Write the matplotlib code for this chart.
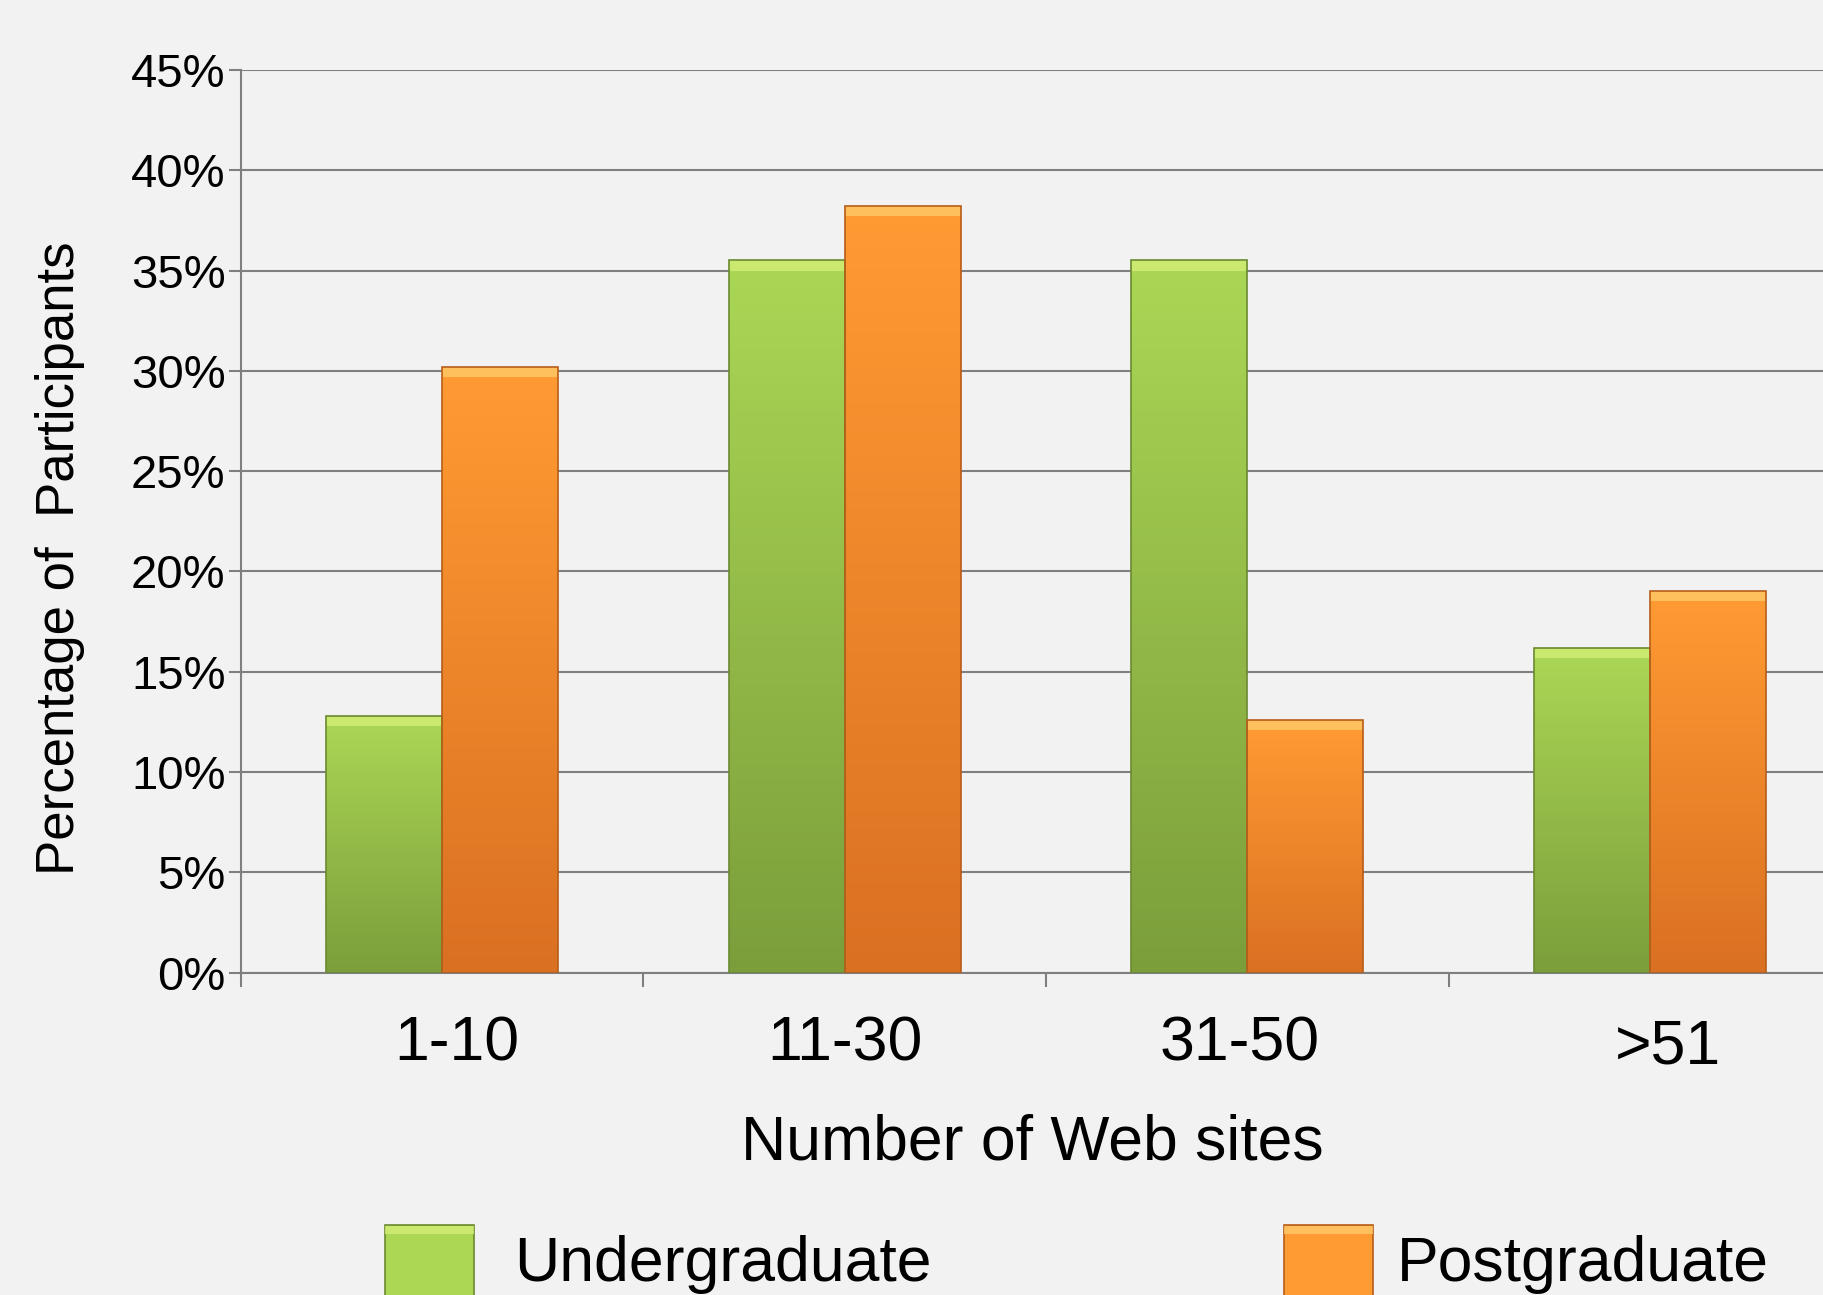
import matplotlib

matplotlib.use("Agg")
import matplotlib.pyplot as plt
import matplotlib.transforms as mtransforms
import numpy as np
from matplotlib.colors import LinearSegmentedColormap
from matplotlib.patches import Rectangle
from matplotlib.ticker import FixedLocator, PercentFormatter

categories = ["1-10", "11-30", "31-50", ">51"]
undergraduate = [12.8, 35.5, 35.5, 16.2]
postgraduate = [30.2, 38.2, 12.6, 19.0]
series_names = ["Undergraduate", "Postgraduate"]
y_ticks = [0, 5, 10, 15, 20, 25, 30, 35, 40, 45]

BG = "#f2f2f2"
GREEN = ("#abd755", "#7b9e3b", "#6a8a30", "#d9f27a")   # top, bottom, edge, bevel
ORANGE = ("#ff9b33", "#da7022", "#b85d18", "#ffd070")

plt.rcParams["font.family"] = ["Liberation Sans", "DejaVu Sans"]

fig = plt.figure(figsize=(18.24, 12.95), dpi=100, facecolor=BG)
ax = fig.add_axes([0.132, 0.249, 0.883, 0.697], facecolor=BG)

x = np.arange(len(categories))
w = 0.288


def gradient_bars(xs, vals, colours):
    top, bottom, edge, bevel = colours
    cmap = LinearSegmentedColormap.from_list("g", [bottom, top])
    bars = ax.bar(xs, vals, width=w, color="none", edgecolor=edge, linewidth=1.2, zorder=3)
    grad = np.linspace(0, 1, 256).reshape(-1, 1)
    for b in bars:
        x0, x1 = b.get_x(), b.get_x() + b.get_width()
        h = b.get_height()
        im = ax.imshow(grad, extent=[x0, x1, 0, h], origin="lower", aspect="auto",
                       cmap=cmap, zorder=2.5)
        im.set_clip_path(b)
        # bevel highlight along the top edge
        ax.add_patch(Rectangle((x0, h - 0.5), x1 - x0, 0.5, facecolor=bevel,
                               edgecolor="none", alpha=0.7, zorder=2.8))
    return bars


gradient_bars(x - w / 2, undergraduate, GREEN)
gradient_bars(x + w / 2, postgraduate, ORANGE)

ax.set_xlim(-0.5, 3.5)
ax.set_ylim(0, 45)
ax.yaxis.set_major_locator(FixedLocator(y_ticks))
ax.yaxis.set_major_formatter(PercentFormatter(decimals=0))
ax.grid(axis="y", color="#7f7f7f", linewidth=1.5, zorder=0)
ax.set_axisbelow(True)

for s in ["top", "right"]:
    ax.spines[s].set_visible(False)
ax.spines["left"].set_color("#7f7f7f")
ax.spines["bottom"].set_color("#7f7f7f")
ax.spines["left"].set_linewidth(1.5)
ax.spines["bottom"].set_linewidth(1.5)

ax.tick_params(axis="y", length=9, width=1.5, color="#7f7f7f", labelsize=34, pad=2)
ax.set_xticks(x)
ax.set_xticklabels(categories)
ax.set_xticks([-0.5, 0.5, 1.5, 2.5], minor=True)
ax.tick_params(axis="x", which="major", length=0, labelsize=45, pad=30)
ax.tick_params(axis="x", which="minor", length=10, width=1.5, color="#7f7f7f")

# the category labels in the original sit a little off-centre
shifts = [(0.15, 0), (0, 0), (-0.08, 0), (0.18, -0.03)]
for lab, (dx, dy) in zip(ax.get_xticklabels(), shifts):
    lab.set_transform(lab.get_transform() + mtransforms.ScaledTranslation(dx, dy, fig.dpi_scale_trans))

fig.text(0.566, 0.117, "Number of Web sites", fontsize=45, ha="center", va="center")
fig.text(0.033, 0.569, "Percentage of  Participants", fontsize=38, rotation=90,
         ha="center", va="center")

# legend, placed by hand
for lx, tx, name, c in [(0.211, 0.282, series_names[0], GREEN),
                         (0.704, 0.766, series_names[1], ORANGE)]:
    fig.patches.append(Rectangle((lx, -0.03), 0.049, 0.084, transform=fig.transFigure,
                                 facecolor=c[0], edgecolor=c[2], linewidth=1.2))
    fig.patches.append(Rectangle((lx, 0.047), 0.049, 0.006, transform=fig.transFigure,
                                 facecolor=c[3], edgecolor="none", alpha=0.7))
    fig.text(tx, 0.011, name, fontsize=45, ha="left", va="baseline")

fig.savefig("out.png", dpi=100, facecolor=BG)
